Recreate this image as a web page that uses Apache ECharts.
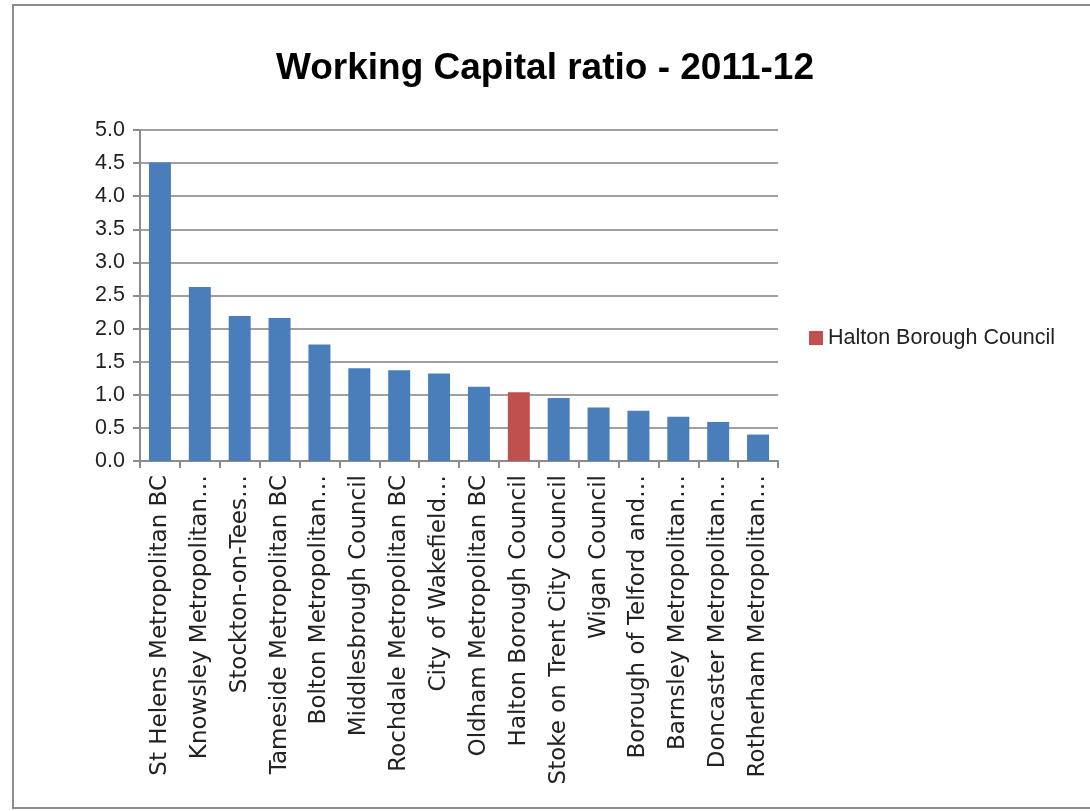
<!DOCTYPE html>
<html>
<head>
<meta charset="utf-8">
<script src="https://cdn.jsdelivr.net/npm/echarts@6/dist/echarts.min.js"></script>
<style>
html,body{margin:0;padding:0;background:#fff;}
#chart{width:1090px;height:811px;}
</style>
</head>
<body>
<div id="chart"></div>
<script>
var categories = [
  "St Helens Metropolitan BC",
  "Knowsley Metropolitan…",
  "Stockton-on-Tees…",
  "Tameside Metropolitan BC",
  "Bolton Metropolitan…",
  "Middlesbrough Council",
  "Rochdale Metropolitan BC",
  "City of Wakefield…",
  "Oldham Metropolitan BC",
  "Halton Borough Council",
  "Stoke on Trent City Council",
  "Wigan Council",
  "Borough of Telford and…",
  "Barnsley Metropolitan…",
  "Doncaster Metropolitan…",
  "Rotherham Metropolitan…"
];
var ratioValues = [4.51, 2.63, 2.19, 2.16, 1.76, 1.40, 1.37, 1.32, 1.12, 1.04, 0.95, 0.81, 0.76, 0.67, 0.59, 0.40];
var highlightName = "Halton Borough Council";
var titleText = "Working Capital ratio - 2011-12";

var otherData = ratioValues.map(function (v, i) { return categories[i] === highlightName ? null : v; });
var highlightData = ratioValues.map(function (v, i) { return categories[i] === highlightName ? v : null; });

var chart = echarts.init(document.getElementById('chart'));
chart.setOption({
  animation: false,
  backgroundColor: '#ffffff',
  graphic: [{
    type: 'rect',
    shape: { x: 13, y: 5, width: 1100, height: 803 },
    style: { fill: 'none', stroke: '#8c8c8c', lineWidth: 2 },
    silent: true
  }],
  title: {
    text: titleText,
    left: 'center',
    top: 45,
    textStyle: { fontFamily: "'Liberation Sans', sans-serif", fontSize: 37, fontWeight: 'bold', color: '#000' }
  },
  legend: {
    data: [highlightName],
    left: 804,
    top: 322,
    icon: 'rect',
    itemWidth: 14,
    itemHeight: 14,
    itemGap: 5,
    textStyle: { fontFamily: "'Liberation Sans', sans-serif", fontSize: 21.5, color: '#222' }
  },
  grid: { left: 140, right: 312, top: 130, bottom: 350, containLabel: false },
  xAxis: {
    type: 'category',
    data: categories,
    axisLine: { lineStyle: { color: '#8c8c8c', width: 2 } },
    axisTick: { show: true, length: 7, lineStyle: { color: '#8c8c8c', width: 2 } },
    axisLabel: { rotate: 90, interval: 0, margin: 14, fontFamily: "'DejaVu Sans', sans-serif", fontSize: 23, color: '#222' }
  },
  yAxis: {
    type: 'value',
    min: 0,
    max: 5,
    interval: 0.5,
    axisLine: { show: true, lineStyle: { color: '#8c8c8c', width: 2 } },
    axisTick: { show: true, length: 7, lineStyle: { color: '#8c8c8c', width: 2 } },
    splitLine: { lineStyle: { color: '#a0a0a0', width: 2 } },
    axisLabel: {
      margin: 15,
      formatter: function (v) { return v.toFixed(1); },
      fontFamily: "'Liberation Sans', sans-serif", fontSize: 21.5, color: '#222'
    }
  },
  series: [
    {
      name: 'Other councils',
      type: 'bar',
      data: otherData,
      barWidth: 22,
      barGap: '-100%',
      itemStyle: { color: '#4a7ebb' }
    },
    {
      name: highlightName,
      type: 'bar',
      data: highlightData,
      barWidth: 22,
      barGap: '-100%',
      itemStyle: { color: '#c0504d' }
    }
  ]
});
</script>
</body>
</html>
